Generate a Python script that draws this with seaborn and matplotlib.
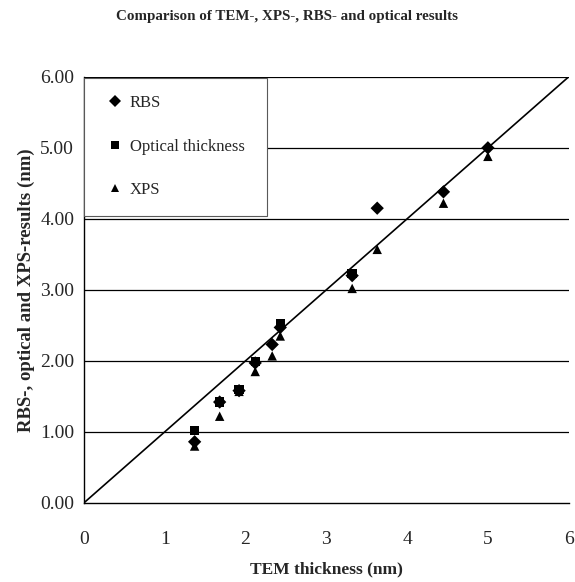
import matplotlib
matplotlib.use("Agg")
import matplotlib.pyplot as plt
import pandas as pd
import seaborn as sns

# TEM thickness (nm) and measured values
tem_rbs = [1.37, 1.68, 1.92, 2.12, 2.33, 2.43, 3.32, 3.63, 4.45, 5.00]
rbs = [0.86, 1.42, 1.58, 1.97, 2.23, 2.47, 3.20, 4.15, 4.38, 5.00]

tem_opt = [1.37, 1.68, 1.92, 2.12, 2.43, 3.32]
optical = [1.02, 1.42, 1.60, 1.99, 2.52, 3.23]

tem_xps = [1.37, 1.68, 1.92, 2.12, 2.33, 2.43, 3.32, 3.63, 4.45, 5.00]
xps = [0.80, 1.22, 1.57, 1.85, 2.07, 2.35, 3.02, 3.57, 4.22, 4.88]

series = ['RBS', 'Optical thickness', 'XPS']
ref_x = [0, 6]
ref_y = [0, 6]
y_ticks = [0, 1, 2, 3, 4, 5, 6]
x_ticks = [0, 1, 2, 3, 4, 5, 6]

df = pd.DataFrame({
    'TEM': tem_rbs + tem_opt + tem_xps,
    'Value': rbs + optical + xps,
    'Method': ['RBS'] * len(rbs) + ['Optical thickness'] * len(optical) + ['XPS'] * len(xps),
})

sns.set_style('white')
plt.rcParams['font.family'] = ['Liberation Serif', 'DejaVu Serif']

fig = plt.figure(figsize=(5.75, 5.82), dpi=100)
ax = fig.add_axes([0.146, 0.136, 0.843, 0.732])

for y in y_ticks[1:]:
    ax.axhline(y, color='black', lw=0.9, zorder=0)

ax.plot(ref_x, ref_y, color='black', lw=1.2, zorder=1)

sns.scatterplot(data=df, x='TEM', y='Value', hue='Method', style='Method',
                hue_order=series, style_order=series,
                palette=['black'] * 3,
                markers={'RBS': 'D', 'Optical thickness': 's', 'XPS': '^'},
                s=46, edgecolor='black', linewidth=0, ax=ax, zorder=3)

ax.set_xlim(0, 6)
ax.set_ylim(0, 6)
ax.set_xticks(x_ticks)
ax.set_yticks(y_ticks)
ax.set_yticklabels(['%.2f' % v for v in y_ticks])
ax.tick_params(axis='both', labelsize=14, direction='out', length=4, color='black')
ax.tick_params(axis='x', pad=16)
ax.tick_params(axis='y', pad=3)

ax.spines['top'].set_visible(False)
ax.spines['right'].set_visible(False)
for s in ['left', 'bottom']:
    ax.spines[s].set_color('black')
    ax.spines[s].set_linewidth(1.0)

ax.set_xlabel('TEM thickness (nm)', fontsize=12.5, fontweight='bold', labelpad=10)
ax.set_ylabel('RBS-, optical and XPS-results (nm)', fontsize=13.5, fontweight='bold', labelpad=4)

fig.suptitle('Comparison of TEM-, XPS-, RBS- and optical results',
             x=0.5, y=0.982, fontsize=10.8, fontweight='bold')

leg = ax.legend(loc='upper left', bbox_to_anchor=(0.0, 0.0, 0.378, 0.998),
                mode='expand', fontsize=12,
                frameon=True, fancybox=False, borderaxespad=0.0,
                labelspacing=1.65, handletextpad=0.1, borderpad=1.05,
                markerscale=0.85, handlelength=1.6)
leg.get_frame().set_edgecolor('0.35')
leg.get_frame().set_linewidth(0.8)
leg.get_frame().set_facecolor('white')
leg.get_frame().set_alpha(1)

fig.savefig('out.png', dpi=100)
